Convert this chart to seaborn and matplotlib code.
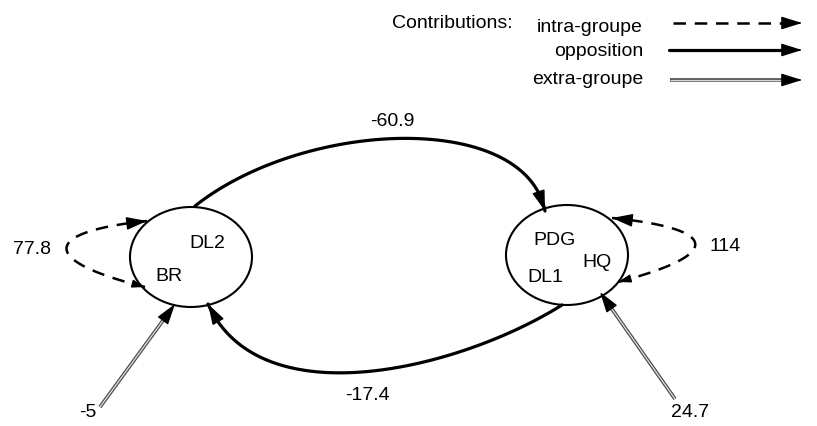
#!/usr/bin/env python3
"""
plot.py - contributions between the two groups (intra / opposition / extra)
"""

import numpy as np
import matplotlib
matplotlib.use('Agg')
import matplotlib.pyplot as plt
from matplotlib.patches import Ellipse
import seaborn as sns

# Data
group_members = [['DL2', 'BR'], ['PDG', 'HQ', 'DL1']]
intra_values = [77.8, 114]          # left group, right group
opposition_values = [-60.9, -17.4]  # left -> right, right -> left
extra_values = [-5, 24.7]           # left group, right group
legend_title = 'Contributions:'
legend_labels = ['intra-groupe', 'opposition', 'extra-groupe']


def setup_style():
    sns.set_style("white")
    plt.rcParams['font.family'] = ['Liberation Sans', 'DejaVu Sans']
    plt.rcParams['font.size'] = 14
    plt.rcParams['text.color'] = 'black'


def bezier(p0, p1, p2, p3, n=120):
    t = np.linspace(0, 1, n)[:, None]
    pts = ((1 - t) ** 3) * np.array(p0) + 3 * ((1 - t) ** 2) * t * np.array(p1) \
        + 3 * (1 - t) * t ** 2 * np.array(p2) + t ** 3 * np.array(p3)
    return pts


def head(ax, tip, prev, scale=1.0):
    """Arrow head at tip, pointing along prev -> tip"""
    d = np.array(tip) - np.array(prev)
    d = d / np.linalg.norm(d)
    start = np.array(tip) - d * 4
    ax.annotate('', xy=tip, xytext=start,
                arrowprops=dict(arrowstyle=f'-|>,head_length={0.8*scale},head_width={0.25*scale}',
                                color='black', lw=1, mutation_scale=16,
                                shrinkA=0, shrinkB=0))


def extra_line(ax, x, y):
    ax.plot(x, y, color='#444444', lw=2.6, solid_capstyle='butt')
    ax.plot(x, y, color='#d8d8d8', lw=1.0, solid_capstyle='butt')


def main():
    setup_style()
    fig = plt.figure(figsize=(8.17, 4.27), dpi=100)
    ax = fig.add_axes([0, 0, 1, 1])
    ax.set_xlim(0, 817)
    ax.set_ylim(427, 0)
    ax.axis('off')

    # groups
    centers = [(191, 258), (567, 256)]
    for c in centers:
        ax.add_patch(Ellipse(c, 122, 100, fill=False, ec='black', lw=1.5))

    member_pos = [[(207, 244), (169, 277)], [(555, 241), (597, 263), (545, 278)]]
    for names, poss in zip(group_members, member_pos):
        for name, (x, y) in zip(names, poss):
            ax.text(x, y, name, ha='center', va='center')

    # opposition arcs
    top = bezier((195, 207), (305, 120), (525, 112), (545, 212))
    ax.plot(top[:, 0], top[:, 1], color='black', lw=2.3)
    head(ax, tuple(top[-1]), tuple(top[-8]))
    ax.text(392, 122, f'{opposition_values[0]}', ha='center', va='center')

    bot = bezier((562, 306), (460, 370), (260, 420), (208, 305))
    ax.plot(bot[:, 0], bot[:, 1], color='black', lw=2.3)
    head(ax, tuple(bot[-1]), tuple(bot[-8]))
    ax.text(367, 396, f'{opposition_values[1]}', ha='center', va='center')

    # intra loops
    loops = [((145, 288), (40, 262), (40, 233), (147, 222)),
             ((618, 283), (722, 256), (722, 230), (612, 219))]
    intra_pos = [(32, 250), (725, 247)]
    for pts, val, (tx, ty) in zip(loops, intra_values, intra_pos):
        c = bezier(*pts)
        ax.plot(c[:, 0], c[:, 1], color='black', lw=1.8, dashes=(5, 3.5))
        head(ax, tuple(c[-1]), tuple(c[-8]))
        head(ax, tuple(c[0]), tuple(c[7]), scale=0.6)
        ax.text(tx, ty, f'{val:g}', ha='center', va='center')

    # extra-group arrows
    extra_from = [(100, 408), (675, 400)]
    extra_to = [(175, 305), (600, 293)]
    extra_txt = [(88, 413), (690, 413)]
    for (x0, y0), (x1, y1), val, (tx, ty) in zip(extra_from, extra_to, extra_values, extra_txt):
        d = np.array([x1 - x0, y1 - y0], dtype=float)
        d /= np.linalg.norm(d)
        ex, ey = x1 - d[0] * 10, y1 - d[1] * 10
        extra_line(ax, [x0, ex], [y0, ey])
        head(ax, (x1, y1), (ex, ey))
        ax.text(tx, ty, f'{val:g}', ha='center', va='center')

    # legend
    ax.text(513, 24, legend_title, ha='right', va='center')
    label_y = [27, 51, 79]
    line_y = [24, 51, 81]
    for lab, ly in zip(legend_labels, label_y):
        ax.text(643, ly, lab, ha='right', va='center')
    ax.plot([673, 790], [line_y[0], line_y[0]], color='black', lw=1.8, dashes=(5, 3.5))
    head(ax, (802, line_y[0]), (790, line_y[0]))
    ax.plot([669, 792], [line_y[1], line_y[1]], color='black', lw=2.3)
    head(ax, (802, line_y[1]), (790, line_y[1]))
    extra_line(ax, [670, 792], [line_y[2], line_y[2]])
    head(ax, (802, line_y[2]), (790, line_y[2]))

    fig.savefig('out.png', dpi=100, facecolor='white')
    plt.close(fig)


if __name__ == "__main__":
    main()
